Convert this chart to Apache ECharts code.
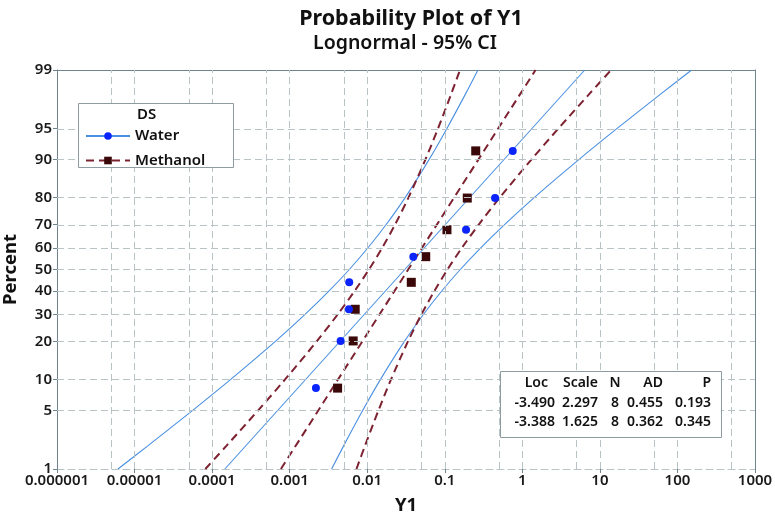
<!DOCTYPE html>
<html><head><meta charset="utf-8">
<script src="https://cdn.jsdelivr.net/npm/echarts@6/dist/echarts.min.js"></script>
<style>html,body{margin:0;padding:0;background:#fff}#c{width:775px;height:518px}</style>
</head><body><div id="c"></div>
<script>
// ---------- data ----------
const xTickValues = [0.000001, 0.00001, 0.0001, 0.001, 0.01, 0.1, 1, 10, 100, 1000];
const xTickLabels = ['0.000001', '0.00001', '0.0001', '0.001', '0.01', '0.1', '1', '10', '100', '1000'];
const xGridValues = [5e-6, 1e-5, 5e-5, 1e-4, 5e-4, 1e-3, 5e-3, 0.01, 0.05, 0.1, 0.5, 1, 5, 10, 50, 100, 500];
const yTickPercents = [1, 5, 10, 20, 30, 40, 50, 60, 70, 80, 90, 95, 99];
const yTickLabels = ['1', '5', '10', '20', '30', '40', '50', '60', '70', '80', '90', '95', '99'];
const yGridPercents = [5, 10, 20, 30, 40, 50, 60, 70, 80, 90, 95];

const plotPercents = [8.33, 20.24, 32.14, 44.05, 55.95, 67.86, 79.76, 91.67];
const waterY1 = [0.00218, 0.00454, 0.00581, 0.00586, 0.0393, 0.188, 0.445, 0.752];
const methanolY1 = [0.00415, 0.00659, 0.00700, 0.0370, 0.0568, 0.1067, 0.195, 0.2506];

const fitPercents = [1, 99];
const waterFit = [0.000146, 6.38];
const methanolFit = [0.000771, 1.48];

const ciPercents = [1, 2, 5, 10, 20, 30, 40, 50, 60, 70, 80, 90, 95, 98, 99];
const waterLower = [6.11e-6, 1.493e-5, 5.57e-5, 1.739e-4, 6.49e-4, 0.001578, 0.003197, 0.005872, 0.01023, 0.01755, 0.03099, 0.0627, 0.1066, 0.1868, 0.2677];
const waterUpper = [0.003475, 0.004981, 0.008728, 0.01484, 0.03001, 0.05302, 0.09089, 0.1584, 0.291, 0.5895, 1.434, 5.35, 16.7, 62.3, 152.2];
const methanolLower = [8.175e-5, 1.537e-4, 3.903e-4, 8.73e-4, 0.002217, 0.004157, 0.006847, 0.01053, 0.01561, 0.02285, 0.03415, 0.05623, 0.08188, 0.1218, 0.157];
const methanolUpper = [0.007265, 0.00937, 0.013935, 0.02029, 0.03339, 0.04994, 0.07311, 0.1083, 0.1665, 0.2745, 0.5146, 1.307, 2.924, 7.42, 13.95];

const chartTitle = 'Probability Plot of Y1';
const chartSubtitle = 'Lognormal - 95% CI';
const legendTitle = 'DS';
const seriesNames = ['Water', 'Methanol'];
const statsHeader = ['Loc', 'Scale', 'N', 'AD', 'P'];
const waterStats = ['-3.490', '2.297', '8', '0.455', '0.193'];
const methanolStats = ['-3.388', '1.625', '8', '0.362', '0.345'];

// ---------- helpers ----------
function probit(p) {
  const a = [-3.969683028665376e+01, 2.209460984245205e+02, -2.759285104469687e+02, 1.383577518672690e+02, -3.066479806614716e+01, 2.506628277459239e+00];
  const b = [-5.447609879822406e+01, 1.615858368580409e+02, -1.556989798598866e+02, 6.680131188771972e+01, -1.328068155288572e+01];
  const c = [-7.784894002430293e-03, -3.223964580411365e-01, -2.400758277161838e+00, -2.549732539343734e+00, 4.374664141464968e+00, 2.938163982698783e+00];
  const d = [7.784695709041462e-03, 3.224671290700398e-01, 2.445134137142996e+00, 3.754408661907416e+00];
  const pl = 0.02425, ph = 1 - pl;
  let q, r;
  if (p < pl) { q = Math.sqrt(-2 * Math.log(p)); return (((((c[0]*q+c[1])*q+c[2])*q+c[3])*q+c[4])*q+c[5]) / ((((d[0]*q+d[1])*q+d[2])*q+d[3])*q+1); }
  if (p > ph) { q = Math.sqrt(-2 * Math.log(1 - p)); return -(((((c[0]*q+c[1])*q+c[2])*q+c[3])*q+c[4])*q+c[5]) / ((((d[0]*q+d[1])*q+d[2])*q+d[3])*q+1); }
  q = p - 0.5; r = q * q;
  return (((((a[0]*r+a[1])*r+a[2])*r+a[3])*r+a[4])*r+a[5])*q / (((((b[0]*r+b[1])*r+b[2])*r+b[3])*r+b[4])*r+1);
}
const zOf = pct => probit(pct / 100);
const lg = v => Math.log10(v);
const pairs = (xs, ps) => xs.map((x, i) => [lg(x), zOf(ps[i])]);

const yMin = zOf(yTickPercents[0]);
const yMax = zOf(yTickPercents[yTickPercents.length - 1]);
const xMin = lg(xTickValues[0]);
const xMax = lg(xTickValues[xTickValues.length - 1]);
const yTickZ = yTickPercents.map(zOf);
const xTickL = xTickValues.map(lg);

const FONT = 'Noto Sans';
const GRID = { left: 57, right: 20, top: 70, bottom: 49, containLabel: false, outerBoundsMode: 'none' };
const gridLineStyle = { type: [7, 4], color: '#b7c3c5', width: 1 };
const frameColor = '#6f848c';

const WATER_LINE = '#4a90e2', WATER_PT = '#0b24fb';
const METH_LINE = '#7d2231', METH_PT = '#3a0808';
const methDash = [8, 5];

const chart = echarts.init(document.getElementById('c'), null, { renderer: 'canvas' });

const labelFor = (vals, labels) => v => {
  let best = 0, bd = Infinity;
  vals.forEach((t, i) => { const dd = Math.abs(t - v); if (dd < bd) { bd = dd; best = i; } });
  return labels[best];
};

const statsX = { right: [555, 598, 615, 663, 711], headRight: [548, 598, 615, 663, 711], align: ['right', 'right', 'center', 'right', 'right'] };
const statsRows = [statsHeader, waterStats, methanolStats];
const statsY = [383.5, 403, 422];
const statsText = [];
statsRows.forEach((row, r) => {
  row.forEach((t, c) => {
    statsText.push({
      type: 'text', silent: true, z: 62,
      x: r === 0 ? statsX.headRight[c] : statsX.right[c], y: statsY[r],
      style: { text: t, fontFamily: FONT, fontSize: 14, fontWeight: 600, fill: '#111', align: statsX.align[c], verticalAlign: 'middle' }
    });
  });
});

const option = {
  animation: false,
  backgroundColor: '#ffffff',
  title: [{
    text: chartTitle,
    left: 406, top: 3, textAlign: 'center',
    textStyle: { fontFamily: FONT, fontSize: 21.5, fontWeight: 'bold', color: '#111' }
  }, {
    text: chartSubtitle,
    left: 400, top: 28, textAlign: 'center',
    textStyle: { fontFamily: FONT, fontSize: 19.5, fontWeight: 600, color: '#111' }
  }],
  legend: {
    data: seriesNames, orient: 'vertical', left: 85, top: 128.5, padding: 0, z: 100,
    itemWidth: 44, itemHeight: 9.5, itemGap: 9.5, selectedMode: false,
    textStyle: { fontFamily: FONT, fontSize: 15, fontWeight: 600, color: '#111' }
  },
  grid: GRID,
  xAxis: [{
    type: 'value', min: xMin, max: xMax, interval: 1,
    name: 'Y1', nameLocation: 'middle', nameGap: 27,
    nameTextStyle: { fontFamily: FONT, fontSize: 18.5, fontWeight: 'bold', color: '#111' },
    axisLine: { show: true, onZero: false, lineStyle: { color: '#b7c3c5', type: [7, 4] } },
    axisTick: { show: true, length: 4, lineStyle: { color: frameColor }, customValues: xTickL },
    axisLabel: { customValues: xTickL, formatter: labelFor(xTickL, xTickLabels), fontFamily: FONT, fontSize: 15, fontWeight: 600, color: '#1a1a1a', margin: 4 },
    splitLine: { show: false }
  }, {
    type: 'value', min: xMin, max: xMax, position: 'top',
    axisLine: { show: true, onZero: false, lineStyle: { color: frameColor } },
    axisTick: { show: false }, axisLabel: { show: false }, splitLine: { show: false }
  }],
  yAxis: [{
    type: 'value', min: yMin, max: yMax,
    name: 'Percent', nameLocation: 'middle', nameGap: 37, nameRotate: 90,
    nameTextStyle: { fontFamily: FONT, fontSize: 18.5, fontWeight: 'bold', color: '#111' },
    axisLine: { show: true, onZero: false, lineStyle: { color: frameColor } },
    axisTick: { show: true, length: 4, lineStyle: { color: frameColor }, customValues: yTickZ },
    axisLabel: { customValues: yTickZ, formatter: labelFor(yTickZ, yTickLabels), fontFamily: FONT, fontSize: 15, fontWeight: 600, color: '#1a1a1a', margin: 5 },
    splitLine: { show: false }
  }, {
    type: 'value', min: yMin, max: yMax, position: 'right',
    axisLine: { show: true, onZero: false, lineStyle: { color: frameColor } },
    axisTick: { show: false }, axisLabel: { show: false }, splitLine: { show: false }
  }],
  series: [
    {
      name: 'grid', type: 'line', data: [], z: 1, silent: true,
      markLine: {
        silent: true, symbol: ['none', 'none'], label: { show: false }, animation: false,
        lineStyle: gridLineStyle, emphasis: { disabled: true },
        data: xGridValues.map(v => ({ xAxis: lg(v) })).concat(yGridPercents.map(p => ({ yAxis: zOf(p) })))
      }
    },
    {
      name: 'Water', type: 'line', z: 3, data: pairs(waterFit, fitPercents),
      symbol: 'circle', showSymbol: false, symbolSize: 8,
      lineStyle: { color: WATER_LINE, width: 1.1 }, itemStyle: { color: WATER_PT, opacity: 1 }
    },
    {
      name: 'Methanol', type: 'line', z: 3, data: pairs(methanolFit, fitPercents),
      symbol: 'rect', showSymbol: false, symbolSize: 9,
      lineStyle: { color: METH_LINE, width: 2, type: methDash }, itemStyle: { color: METH_PT, opacity: 1 }
    },
    { name: 'Water', type: 'line', z: 3, data: pairs(waterLower, ciPercents), smooth: 0.3, showSymbol: false, symbol: 'none', lineStyle: { color: WATER_LINE, width: 1.1 } },
    { name: 'Water', type: 'line', z: 3, data: pairs(waterUpper, ciPercents), smooth: 0.3, showSymbol: false, symbol: 'none', lineStyle: { color: WATER_LINE, width: 1.1 } },
    { name: 'Methanol', type: 'line', z: 3, data: pairs(methanolLower, ciPercents), smooth: 0.3, showSymbol: false, symbol: 'none', lineStyle: { color: METH_LINE, width: 2, type: methDash } },
    { name: 'Methanol', type: 'line', z: 3, data: pairs(methanolUpper, ciPercents), smooth: 0.3, showSymbol: false, symbol: 'none', lineStyle: { color: METH_LINE, width: 2, type: methDash } },
    { name: 'Water', type: 'scatter', z: 5, data: pairs(waterY1, plotPercents), symbol: 'circle', symbolSize: 8, itemStyle: { color: WATER_PT, opacity: 1 } },
    { name: 'Methanol', type: 'scatter', z: 4, data: pairs(methanolY1, plotPercents), symbol: 'rect', symbolSize: 9, itemStyle: { color: METH_PT, opacity: 1 } }
  ],
  graphic: [
    { type: 'rect', z: 50, silent: true, shape: { x: 78.5, y: 103.5, width: 155, height: 64 }, style: { fill: '#fff', stroke: '#8d9ca1', lineWidth: 1 } },
    { type: 'text', z: 62, silent: true, x: 137, y: 115, style: { text: legendTitle, fontFamily: FONT, fontSize: 15, fontWeight: 600, fill: '#111', verticalAlign: 'middle' } },
    { type: 'rect', z: 50, silent: true, shape: { x: 500.5, y: 371.5, width: 221, height: 66 }, style: { fill: '#fff', stroke: '#8d9ca1', lineWidth: 1 } },
    { type: 'group', z: 62, silent: true, children: statsText }
  ]
};
chart.setOption(option);
</script>
</body></html>
